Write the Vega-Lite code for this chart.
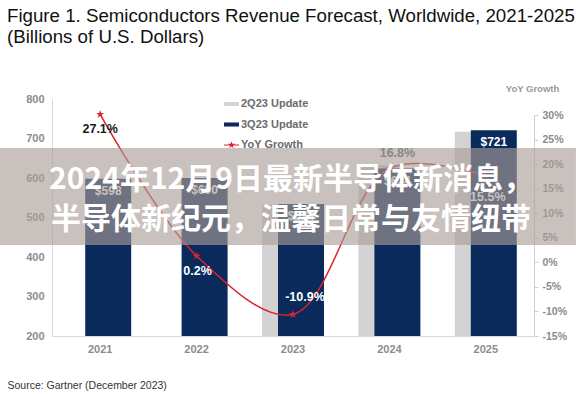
{
  "$schema": "https://vega.github.io/schema/vega-lite/v6.json",
  "width": 482,
  "height": 237,
  "autosize": {"type": "none"},
  "padding": {"left": 52, "top": 99, "right": 42, "bottom": 58},
  "background": "white",
  "title": {
    "text": ["Figure 1. Semiconductors Revenue Forecast, Worldwide, 2021-2025", "(Billions of U.S. Dollars)"],
    "anchor": "start",
    "frame": "group",
    "dx": -45,
    "offset": 17,
    "baseline": "bottom",
    "font": "Liberation Sans",
    "fontSize": 18.7,
    "fontWeight": "normal",
    "color": "#111111",
    "lineHeight": 21
  },
  "config": {
    "view": {"stroke": null},
    "font": "Liberation Sans",
    "axis": {
      "zindex": 0,
      "grid": false,
      "labelOverlap": false,
      "labelFont": "Liberation Sans",
      "labelFontWeight": "bold",
      "labelColor": "#8c8c8c",
      "labelFontSize": 11,
      "domainColor": "#d9d9d9"
    }
  },
  "datasets": {
    "rev": [
      {"year": "2021", "series": "3Q23 Update", "value": 598, "label": "$598"},
      {"year": "2022", "series": "3Q23 Update", "value": 600, "label": "$600"},
      {"year": "2023", "series": "2Q23 Update", "value": 532},
      {"year": "2023", "series": "3Q23 Update", "value": 534, "label": "$534"},
      {"year": "2024", "series": "2Q23 Update", "value": 633},
      {"year": "2024", "series": "3Q23 Update", "value": 624, "label": "$624"},
      {"year": "2025", "series": "2Q23 Update", "value": 717},
      {"year": "2025", "series": "3Q23 Update", "value": 721, "label": "$721"}
    ],
    "growth": [
      {"year": "2021", "growth": 27.1, "label": "27.1%"},
      {"year": "2022", "growth": 0.2, "label": "0.2%"},
      {"year": "2023", "growth": -10.9, "label": "-10.9%"},
      {"year": "2024", "growth": 16.8, "label": "16.8%"},
      {"year": "2025", "growth": 15.5, "label": "15.5%"}
    ],
    "banner": [
      {"bx": -0.108, "bx2": 1.087, "by": 0.793, "by2": 0.384}
    ],
    "bannertext": [
      {"t": "2024年12月9日最新半导体新消息，", "tx": 0.496, "ty": 0.66},
      {"t": "半导体新纪元，温馨日常与友情纽带", "tx": 0.496, "ty": 0.49}
    ]
  },
  "resolve": {"scale": {"x": "independent", "y": "independent"}},
  "layer": [
    {
      "data": {"name": "rev"},
      "layer": [
        {
          "transform": [{"filter": "datum.series === '2Q23 Update'"}],
          "mark": {"type": "bar", "width": {"band": 0.477}, "xOffset": -8},
          "encoding": {
            "x": {
              "field": "year", "type": "nominal",
              "scale": {"domain": ["2021", "2022", "2023", "2024", "2025"], "paddingInner": 0, "paddingOuter": 0},
              "axis": {
                "title": "Source: Gartner (December 2023)",
                "titleX": -45, "titleY": 49, "titleAlign": "left", "titleBaseline": "middle",
                "titleFont": "Liberation Sans", "titleFontSize": 10.5, "titleFontWeight": "normal", "titleColor": "#333333",
                "labelAngle": 0, "labelPadding": 7, "ticks": false
              }
            },
            "y": {
              "field": "value", "type": "quantitative",
              "scale": {"domain": [200, 800], "nice": false, "zero": false},
              "axis": {"title": null, "values": [200, 300, 400, 500, 600, 700, 800], "labelOverlap": false, "labelPadding": 8, "ticks": false}
            },
            "y2": {"datum": 200},
            "color": {
              "field": "series", "type": "nominal",
              "scale": {"domain": ["2Q23 Update", "3Q23 Update", "YoY Growth"], "range": ["#d3d3d3", "#0b2a5c", "#d9232e"]},
              "legend": {
                "orient": "none", "legendX": 172, "legendY": -2.5, "title": null, "direction": "vertical",
                "symbolSize": 225, "labelFont": "Liberation Sans", "labelFontSize": 11, "labelFontWeight": "bold",
                "labelColor": "#6b6b6b", "labelOffset": 2, "rowPadding": 7.5,
                "encode": {
                  "symbols": {
                    "update": {
                      "shape": {"signal": "datum.value === 'YoY Growth' ? 'M-1,-0.07H1V0.07H-1ZM0,-0.5L0.118,-0.162L0.476,-0.155L0.19,0.062L0.294,0.405L0,0.2L-0.294,0.405L-0.19,0.062L-0.476,-0.155L-0.118,-0.162Z' : 'M-1,-0.27H1V0.27H-1Z'"},
                      "fill": {"scale": "color", "field": "value"},
                      "stroke": {"value": "transparent"},
                      "strokeWidth": {"value": 0},
                      "opacity": {"value": 1}
                    }
                  }
                }
              }
            }
          }
        },
        {
          "transform": [{"filter": "datum.series === '3Q23 Update'"}],
          "mark": {"type": "bar", "width": {"band": 0.477}, "xOffset": 8},
          "encoding": {
            "x": {"field": "year", "type": "nominal"},
            "y": {"field": "value", "type": "quantitative", "axis": {"title": null, "values": [200, 300, 400, 500, 600, 700, 800], "labelOverlap": false, "labelPadding": 8, "ticks": false}},
            "y2": {"datum": 200},
            "color": {"field": "series", "type": "nominal"}
          }
        },
        {
          "transform": [{"filter": "datum.series === '3Q23 Update'"}],
          "mark": {"type": "text", "xOffset": 8, "dy": 12, "color": "white", "font": "Liberation Sans", "fontWeight": "bold", "fontSize": 12},
          "encoding": {
            "x": {"field": "year", "type": "nominal"},
            "y": {"field": "value", "type": "quantitative", "axis": {"title": null, "values": [200, 300, 400, 500, 600, 700, 800], "labelOverlap": false, "labelPadding": 8, "ticks": false}},
            "text": {"field": "label"}
          }
        }
      ]
    },
    {
      "data": {"name": "growth"},
      "mark": {"type": "point", "opacity": 0},
      "encoding": {
        "y": {
          "field": "growth", "type": "quantitative",
          "scale": {"domain": [-15, 30], "nice": false, "zero": false, "range": [237, 16]},
          "axis": {
            "orient": "right", "title": "YoY Growth", "titleAngle": 0, "titleX": -2, "titleY": -11,
            "titleAlign": "center", "titleBaseline": "middle", "titleFont": "Liberation Sans", "titleFontSize": 9.5,
            "titleFontWeight": "bold", "titleColor": "#9a9a9a",
            "values": [-15, -10, -5, 0, 5, 10, 15, 20, 25, 30],
            "labelExpr": "datum.value + '%'", "labelOverlap": false,
            "ticks": true, "tickSize": 4, "tickColor": "#d0d0d0", "labelPadding": 4, "labelFontSize": 10.5,
            "domainColor": "#d0d0d0"
          }
        }
      }
    },
    {
      "data": {"name": "growth"},
      "layer": [
        {
          "mark": {"type": "line", "interpolate": "catmull-rom", "strokeWidth": 1.5},
          "encoding": {
            "x": {"field": "year", "type": "nominal", "axis": null},
            "y": {"field": "growth", "type": "quantitative", "scale": {"domain": [-15, 30], "nice": false, "zero": false}, "axis": null},
            "color": {"datum": "YoY Growth"}
          }
        },
        {
          "mark": {"type": "point", "filled": true, "opacity": 1, "size": 70, "shape": "M0,-1L0.236,-0.324L0.951,-0.309L0.38,0.124L0.588,0.809L0,0.4L-0.588,0.809L-0.38,0.124L-0.951,-0.309L-0.236,-0.324Z"},
          "encoding": {
            "x": {"field": "year", "type": "nominal", "axis": null},
            "y": {"field": "growth", "type": "quantitative", "axis": null},
            "color": {"datum": "YoY Growth"}
          }
        },
        {
          "transform": [{"filter": "datum.year === '2021'"}],
          "mark": {"type": "text", "dy": 15, "font": "Liberation Sans", "fontSize": 12.5, "fontWeight": "bold", "color": "#1a1a1a"},
          "encoding": {
            "x": {"field": "year", "type": "nominal", "axis": null},
            "y": {"field": "growth", "type": "quantitative", "axis": null},
            "text": {"field": "label"}
          }
        },
        {
          "transform": [{"filter": "datum.year === '2022'"}],
          "mark": {"type": "text", "dy": 15, "dx": 1, "font": "Liberation Sans", "fontSize": 12.5, "fontWeight": "bold", "color": "white"},
          "encoding": {
            "x": {"field": "year", "type": "nominal", "axis": null},
            "y": {"field": "growth", "type": "quantitative", "axis": null},
            "text": {"field": "label"}
          }
        },
        {
          "transform": [{"filter": "datum.year === '2023'"}],
          "mark": {"type": "text", "dy": -17, "dx": 12, "font": "Liberation Sans", "fontSize": 12.5, "fontWeight": "bold", "color": "white"},
          "encoding": {
            "x": {"field": "year", "type": "nominal", "axis": null},
            "y": {"field": "growth", "type": "quantitative", "axis": null},
            "text": {"field": "label"}
          }
        },
        {
          "transform": [{"filter": "datum.year === '2024'"}],
          "mark": {"type": "text", "dy": -16, "dx": 8, "font": "Liberation Sans", "fontSize": 12.5, "fontWeight": "bold", "color": "#5c5c5c"},
          "encoding": {
            "x": {"field": "year", "type": "nominal", "axis": null},
            "y": {"field": "growth", "type": "quantitative", "axis": null},
            "text": {"field": "label"}
          }
        },
        {
          "transform": [{"filter": "datum.year === '2025'"}],
          "mark": {"type": "text", "dy": 22, "dx": 2, "font": "Liberation Sans", "fontSize": 12.5, "fontWeight": "bold", "color": "white"},
          "encoding": {
            "x": {"field": "year", "type": "nominal", "axis": null},
            "y": {"field": "growth", "type": "quantitative", "axis": null},
            "text": {"field": "label"}
          }
        }
      ]
    },
    {
      "layer": [
        {
          "data": {"name": "banner"},
          "mark": {"type": "rect", "fill": "#aa9d97", "opacity": 0.63},
          "encoding": {
            "x": {"field": "bx", "type": "quantitative", "scale": {"domain": [0, 1], "nice": false, "zero": false}, "axis": null},
            "x2": {"field": "bx2"},
            "y": {"field": "by", "type": "quantitative", "scale": {"domain": [0, 1], "nice": false, "zero": false}, "axis": null},
            "y2": {"field": "by2"}
          }
        },
        {
          "data": {"name": "bannertext"},
          "mark": {"type": "text", "font": "Noto Sans CJK SC", "fontSize": 30, "fontWeight": "bold", "color": "white", "align": "center", "baseline": "middle"},
          "encoding": {
            "x": {"field": "tx", "type": "quantitative", "axis": null},
            "y": {"field": "ty", "type": "quantitative", "axis": null},
            "text": {"field": "t"}
          }
        }
      ]
    }
  ]
}
